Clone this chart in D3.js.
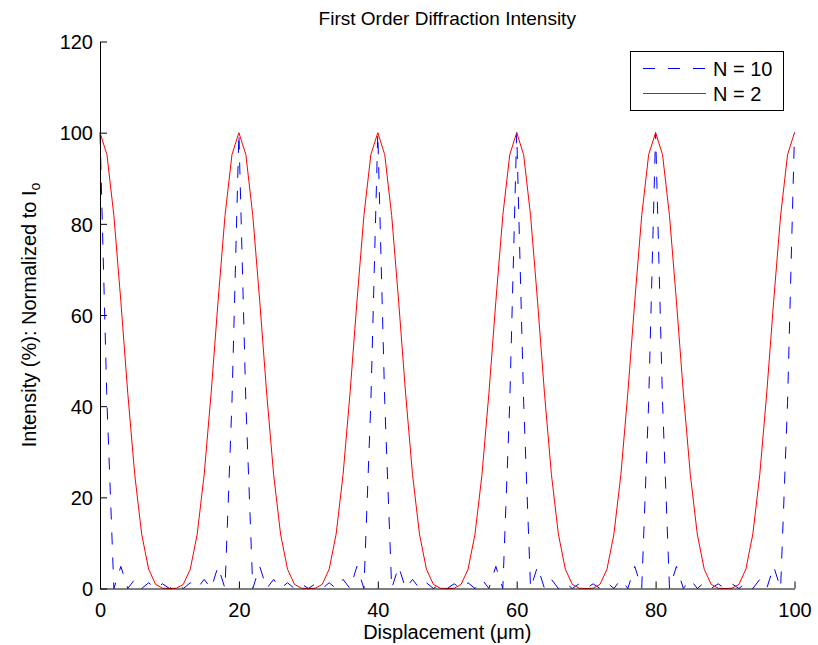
<!DOCTYPE html>
<html>
<head>
<meta charset="utf-8">
<script src="https://cdnjs.cloudflare.com/ajax/libs/d3/7.8.5/d3.min.js"></script>
<style>
  body { margin: 0; background: #fff; }
  text { font-family: "Liberation Sans", Arial, sans-serif; fill: #000; }
</style>
</head>
<body>
<script>
// data (one sample per micrometre)
const displacement = [
  0, 1, 2, 3, 4, 5, 6, 7, 8, 9, 10, 11, 12, 13, 14, 15, 16, 17, 18, 19,
  20, 21, 22, 23, 24, 25, 26, 27, 28, 29, 30, 31, 32, 33, 34, 35, 36, 37, 38, 39,
  40, 41, 42, 43, 44, 45, 46, 47, 48, 49, 50, 51, 52, 53, 54, 55, 56, 57, 58, 59,
  60, 61, 62, 63, 64, 65, 66, 67, 68, 69, 70, 71, 72, 73, 74, 75, 76, 77, 78, 79,
  80, 81, 82, 83, 84, 85, 86, 87, 88, 89, 90, 91, 92, 93, 94, 95, 96, 97, 98, 99,
  100];

const intensityN10 = [
  100, 40.86, 0, 4.85, 0, 2.00, 0, 1.26, 0, 1.03, 0, 1.03, 0, 1.26, 0, 2.00, 0, 4.85, 0, 40.86,
  100, 40.86, 0, 4.85, 0, 2.00, 0, 1.26, 0, 1.03, 0, 1.03, 0, 1.26, 0, 2.00, 0, 4.85, 0, 40.86,
  100, 40.86, 0, 4.85, 0, 2.00, 0, 1.26, 0, 1.03, 0, 1.03, 0, 1.26, 0, 2.00, 0, 4.85, 0, 40.86,
  100, 40.86, 0, 4.85, 0, 2.00, 0, 1.26, 0, 1.03, 0, 1.03, 0, 1.26, 0, 2.00, 0, 4.85, 0, 40.86,
  100, 40.86, 0, 4.85, 0, 2.00, 0, 1.26, 0, 1.03, 0, 1.03, 0, 1.26, 0, 2.00, 0, 4.85, 0, 40.86,
  100];

const intensityN2 = [
  100, 95.17, 81.81, 63.03, 42.84, 25.00, 11.94, 4.25, 0.91, 0.06, 0, 0.06, 0.91, 4.25, 11.94, 25.00, 42.84, 63.03, 81.81, 95.17,
  100, 95.17, 81.81, 63.03, 42.84, 25.00, 11.94, 4.25, 0.91, 0.06, 0, 0.06, 0.91, 4.25, 11.94, 25.00, 42.84, 63.03, 81.81, 95.17,
  100, 95.17, 81.81, 63.03, 42.84, 25.00, 11.94, 4.25, 0.91, 0.06, 0, 0.06, 0.91, 4.25, 11.94, 25.00, 42.84, 63.03, 81.81, 95.17,
  100, 95.17, 81.81, 63.03, 42.84, 25.00, 11.94, 4.25, 0.91, 0.06, 0, 0.06, 0.91, 4.25, 11.94, 25.00, 42.84, 63.03, 81.81, 95.17,
  100, 95.17, 81.81, 63.03, 42.84, 25.00, 11.94, 4.25, 0.91, 0.06, 0, 0.06, 0.91, 4.25, 11.94, 25.00, 42.84, 63.03, 81.81, 95.17,
  100];

const xTicks = [0, 20, 40, 60, 80, 100];
const yTicks = [0, 20, 40, 60, 80, 100, 120];
const seriesNames = ["N = 10", "N = 2"];

// canvas
const canvWidth = 818, canvHeight = 645;
const margin = {top: 41.5, right: 23.5, bottom: 56.5, left: 100};
const width = canvWidth - margin.left - margin.right;
const height = canvHeight - margin.top - margin.bottom;

const svg = d3.select("body").append("svg")
  .attr("width", canvWidth)
  .attr("height", canvHeight);

const g = svg.append("g")
  .attr("transform", "translate(" + margin.left + "," + margin.top + ")");

const x = d3.scaleLinear().domain([0, 100]).range([0, width]);
const y = d3.scaleLinear().domain([0, 120]).range([height, 0]);

const tickFont = "20px";
const tickLen = 7;

// series, N = 10 first so N = 2 sits on top
const lineN10 = d3.line().x((d, i) => x(displacement[i])).y(d => y(d));
const lineN2 = d3.line().x((d, i) => x(displacement[i])).y(d => y(d));

g.append("path").datum(intensityN10)
  .attr("d", lineN10)
  .attr("fill", "none")
  .attr("stroke", "#0000ff")
  .attr("stroke-width", 1)
  .attr("stroke-dasharray", "12,13");

g.append("path").datum(intensityN2)
  .attr("d", lineN2)
  .attr("fill", "none")
  .attr("stroke", "#ff0000")
  .attr("stroke-width", 1);

// axes (inward ticks, no box)
const xAxis = g.append("g")
  .attr("transform", "translate(0," + height + ")")
  .call(d3.axisBottom(x).tickValues(xTicks).tickSizeInner(-tickLen).tickSizeOuter(0).tickPadding(14));

const yAxis = g.append("g")
  .call(d3.axisLeft(y).tickValues(yTicks).tickSizeInner(-tickLen).tickSizeOuter(0).tickPadding(7));

[xAxis, yAxis].forEach(a => {
  a.select(".domain").attr("stroke", "#000").attr("stroke-width", 1);
  a.selectAll(".tick line").attr("stroke", "#000");
  a.selectAll(".tick text")
    .attr("font-family", "Liberation Sans, Arial, sans-serif")
    .attr("font-size", tickFont)
    .attr("fill", "#000");
});
xAxis.selectAll(".tick text").attr("dy", "0.71em");
yAxis.selectAll(".tick text").attr("dy", "0.36em");

// title and labels
svg.append("text")
  .attr("x", margin.left + width / 2)
  .attr("y", 25)
  .attr("text-anchor", "middle")
  .attr("font-size", "19px")
  .text("First Order Diffraction Intensity");

svg.append("text")
  .attr("x", margin.left + width / 2)
  .attr("y", 639)
  .attr("text-anchor", "middle")
  .attr("font-size", "20px")
  .text("Displacement (\u03bcm)");

const yLabel = svg.append("text")
  .attr("transform", "translate(36," + (margin.top + height / 2) + ") rotate(-90)")
  .attr("text-anchor", "middle")
  .attr("font-size", "20px");
yLabel.append("tspan").text("Intensity (%): Normalized to I");
yLabel.append("tspan").attr("dy", "0.3em").attr("font-size", "14px").text("o");

// legend
const legend = svg.append("g");
legend.append("rect")
  .attr("x", 630.5).attr("y", 51.5)
  .attr("width", 153).attr("height", 59)
  .attr("fill", "#fff")
  .attr("stroke", "#000")
  .attr("stroke-width", 1);

const legendStyles = [
  {color: "#0000ff", dash: "12,13"},
  {color: "#ff0000", dash: null}
];
seriesNames.forEach((name, i) => {
  const rowY = 68.5 + i * 25;
  legend.append("line")
    .attr("x1", 643).attr("x2", 706)
    .attr("y1", rowY).attr("y2", rowY)
    .attr("stroke", legendStyles[i].color)
    .attr("stroke-width", 1)
    .attr("stroke-dasharray", legendStyles[i].dash);
  legend.append("text")
    .attr("x", 713)
    .attr("y", rowY + 7)
    .attr("font-size", "20px")
    .text(name);
});
</script>
</body>
</html>
